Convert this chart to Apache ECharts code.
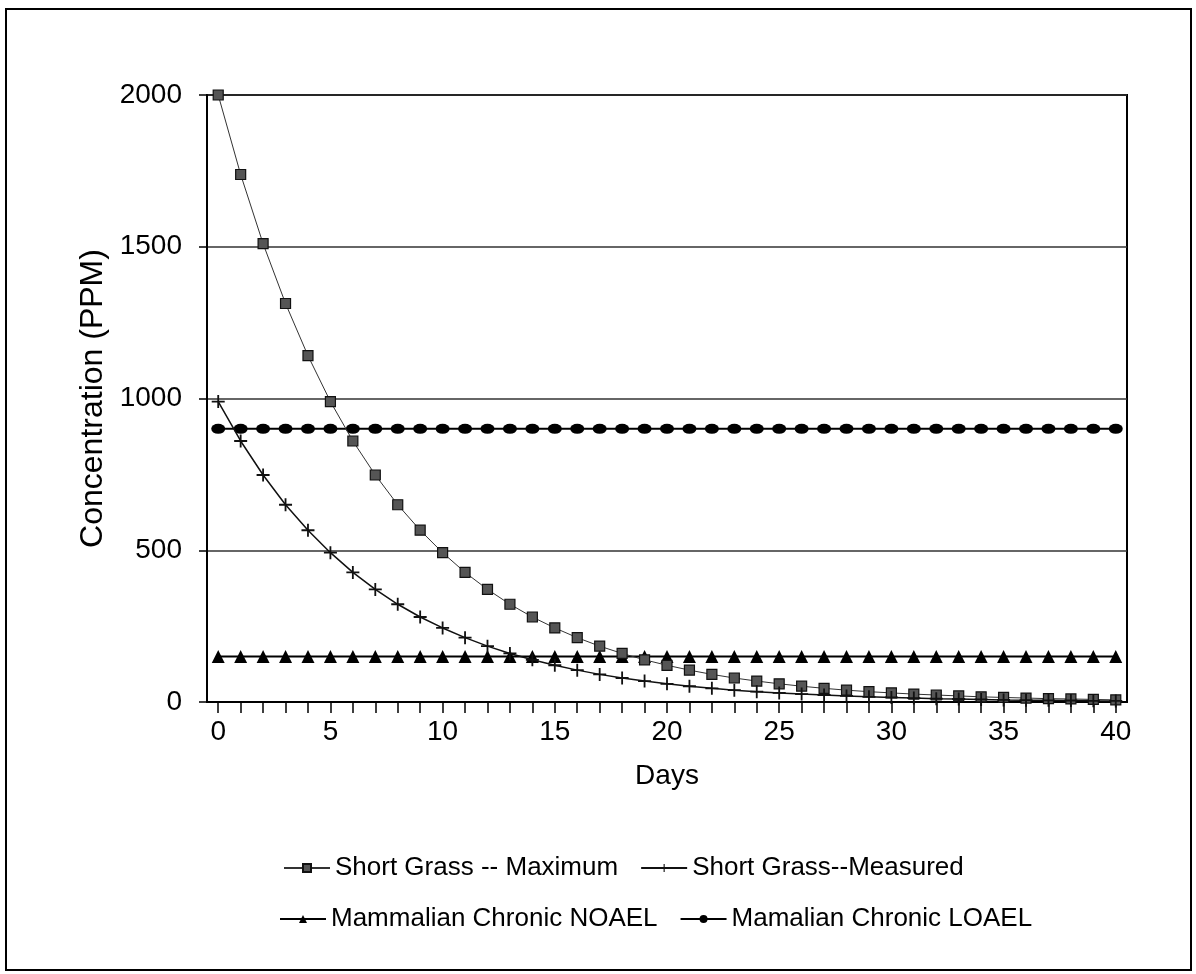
<!DOCTYPE html>
<html><head><meta charset="utf-8">
<script src="https://cdn.jsdelivr.net/npm/echarts@6/dist/echarts.min.js"></script>
<style>html,body{margin:0;padding:0;background:#fff}#c{width:1196px;height:974px}</style>
</head><body><div id="c"></div>
<script>
const days = ['0','1','2','3','4','5','6','7','8','9','10','11','12','13','14','15','16','17','18','19','20',
  '21','22','23','24','25','26','27','28','29','30','31','32','33','34','35','36','37','38','39','40'];
const maxValues = [2000,1738,1510,1313,1141,990,860,748,650,566,492,427,371,322,280,244,212,184,160,139,121,
  105,91,79,69,60,52,45,39,34,30,26,23,20,17,15,13,11,10,8.5,7];
const measuredValues = [990,860,748,650,566,492,427,371,322,280,244,212,184,160,139,121,105,91,79,69,60,
  52,45,39,34,30,26,23,20,17,15,13,11,10,8.5,7,6,5.5,5,4,3.5];
const noaelValues = [150,150,150,150,150,150,150,150,150,150,150,150,150,150,150,150,150,150,150,150,150,
  150,150,150,150,150,150,150,150,150,150,150,150,150,150,150,150,150,150,150,150];
const loaelValues = [900,900,900,900,900,900,900,900,900,900,900,900,900,900,900,900,900,900,900,900,900,
  900,900,900,900,900,900,900,900,900,900,900,900,900,900,900,900,900,900,900,900];
const seriesNames = ['Short Grass -- Maximum','Short Grass--Measured','Mammalian Chronic NOAEL','Mamalian Chronic LOAEL'];
const yMin = 0, yMax = 2000, yStep = 500;

const FONT = "'Liberation Sans', Arial, sans-serif";
const chart = echarts.init(document.getElementById('c'), null, {renderer:'canvas'});
const plusPath = 'path://M4.3,0H5.7V10H4.3Z M0,4.3H10V5.7H0Z';
chart.setOption({
  animation:false,
  backgroundColor:'#fff',
  textStyle:{fontFamily:FONT},
  graphic:[{type:'rect', shape:{x:6,y:9,width:1185,height:961}, style:{fill:'none', stroke:'#000', lineWidth:2}, silent:true}],
  grid:{left:207, right:69, top:95, bottom:272, show:true, borderColor:'#000', borderWidth:2, containLabel:false},
  xAxis:{type:'category', data:days, boundaryGap:true,
    axisLine:{lineStyle:{color:'#000', width:2}},
    axisTick:{show:true, alignWithLabel:true, interval:0, length:11, lineStyle:{color:'#000', width:1.5}},
    axisLabel:{interval:4, fontSize:28, color:'#000', margin:16, fontFamily:FONT},
    name:'Days', nameLocation:'middle', nameGap:60, nameMoveOverlap:false,
    nameTextStyle:{fontSize:28, color:'#000', fontFamily:FONT},
    splitLine:{show:false}},
  yAxis:{type:'value', min:yMin, max:yMax, interval:yStep,
    axisLine:{show:true, lineStyle:{color:'#000', width:2}},
    axisTick:{show:true, length:8, lineStyle:{color:'#000', width:1.5}},
    axisLabel:{fontSize:28, color:'#000', margin:25, fontFamily:FONT, formatter:function(v){return String(v);}},
    splitLine:{show:true, lineStyle:{color:'#333', width:1.5}},
    name:'Concentration (PPM)', nameLocation:'middle', nameGap:98, nameRotate:90, nameMoveOverlap:false,
    nameTextStyle:{fontSize:32, color:'#000', fontFamily:FONT}},
  legend:[
    {data:[seriesNames[0], seriesNames[1]], left:278, top:850, orient:'horizontal', itemWidth:46, itemHeight:10, itemGap:22,
      textStyle:{fontSize:26, color:'#000', fontFamily:FONT}},
    {data:[seriesNames[2], seriesNames[3]], left:274, top:901, orient:'horizontal', itemWidth:46, itemHeight:10, itemGap:22,
      textStyle:{fontSize:26, color:'#000', fontFamily:FONT}}
  ],
  series:[
    {name:seriesNames[0], type:'line', data:maxValues, symbol:'rect', symbolSize:10, showAllSymbol:true,
      itemStyle:{color:'#555', borderColor:'#111', borderWidth:1.2}, lineStyle:{color:'#333', width:1}, z:3},
    {name:seriesNames[1], type:'line', data:measuredValues, symbol:plusPath, symbolSize:13, showAllSymbol:true,
      itemStyle:{color:'#111'}, lineStyle:{color:'#111', width:1.5}, z:3},
    {name:seriesNames[2], type:'line', data:noaelValues, symbol:'triangle', symbolSize:13, showAllSymbol:true,
      itemStyle:{color:'#000'}, lineStyle:{color:'#000', width:2}, z:2},
    {name:seriesNames[3], type:'line', data:loaelValues, symbol:'circle', symbolSize:[14,10], showAllSymbol:true,
      itemStyle:{color:'#000'}, lineStyle:{color:'#000', width:2}, z:2}
  ]
});
</script></body></html>
